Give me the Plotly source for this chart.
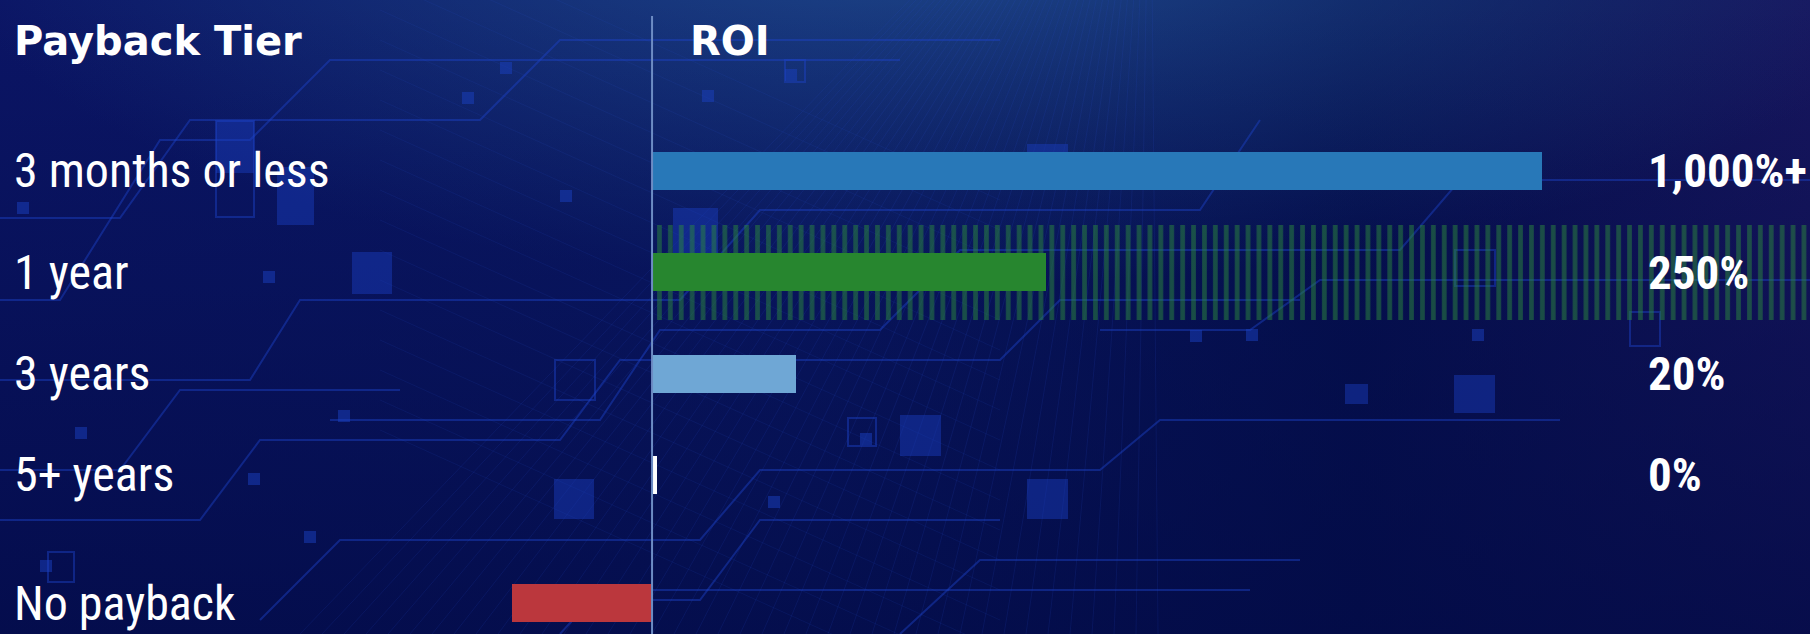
import base64
import plotly.graph_objects as go

# ---------------- data ----------------
tiers = ["3 months or less", "1 year", "3 years", "5+ years", "No payback"]
roi_labels = ["1,000%+", "250%", "20%", "0%", ""]
bar_lengths = [100, 44.3, 16.2, 0.6, -15.7]          # relative bar length (3 months = 100)
bar_colors = ["#2878b8", "#27862f", "#6fa7d5", "#ffffff", "#bb373d"]
highlight_tier = "1 year"
header_left = "Payback Tier"
header_right = "ROI"

# ---------------- layout constants ----------------
W, H = 1810, 634
X_MIN, X_MAX = -73.26, 130.1
Y_TOP, Y_BOTTOM = -1.688, 4.571
GAP_BEFORE_LAST = 0.265
positions = [i + (GAP_BEFORE_LAST if t == "No payback" else 0) for i, t in enumerate(tiers)]

LABEL_FONT = "Liberation Sans Narrow, Roboto Condensed, DejaVu Sans Condensed, sans-serif"
HEAD_FONT = "DejaVu Sans, Open Sans, sans-serif"

# ---------------- decorative background (svg) ----------------
def bg_svg():
    sq = [(216, 121, 38, 52), (277, 167, 37, 58), (352, 252, 40, 42), (554, 479, 40, 40),
          (900, 415, 41, 41), (1027, 479, 41, 40), (1454, 375, 41, 38), (673, 208, 45, 48),
          (1027, 144, 41, 29), (1345, 384, 23, 20)]
    small = [(462, 92), (702, 90), (785, 69), (263, 271), (338, 410), (17, 202), (1246, 329),
             (1472, 329), (768, 496), (860, 433), (304, 531), (248, 473), (75, 427), (560, 190),
             (1190, 330), (500, 62), (40, 560)]
    outline = [(216, 121, 38, 96), (555, 360, 40, 40), (848, 418, 28, 28), (1630, 312, 30, 34),
               (48, 552, 26, 30), (1455, 250, 40, 36), (785, 60, 20, 22)]
    lines = [
        "0,218 120,218 190,120 480,120 560,40 1000,40",
        "0,300 60,300 160,140 250,140 330,60 900,60",
        "0,380 250,380 300,300 680,300 760,210 1200,210 1260,120",
        "0,520 200,520 260,440 560,440 620,360 1000,360 1060,300 1300,300",
        "330,420 600,420 660,330 880,330 960,250 1400,250 1460,180 1810,180",
        "0,470 120,470 180,390 400,390",
        "260,620 340,540 700,540 760,470 1100,470 1160,420 1560,420",
        "600,600 700,600 760,520 1000,520",
        "900,634 980,560 1300,560",
        "1100,330 1250,330 1320,280 1810,280",
        "560,634 600,590 1250,590",
    ]
    s = [f'<svg xmlns="http://www.w3.org/2000/svg" width="{W}" height="{H}" viewBox="0 0 {W} {H}">',
         '<defs>',
         '<linearGradient id="g1" x1="0" y1="0" x2="1" y2="0">'
         '<stop offset="0" stop-color="#0b1565"/><stop offset="0.45" stop-color="#0b1a66"/>'
         '<stop offset="0.75" stop-color="#061150"/><stop offset="1" stop-color="#17165e"/></linearGradient>',
         '<radialGradient id="g2" cx="0.52" cy="-0.1" r="0.55">'
         '<stop offset="0" stop-color="#1f4a8c" stop-opacity="0.9"/>'
         '<stop offset="1" stop-color="#1f4a8c" stop-opacity="0"/></radialGradient>',
         '<linearGradient id="g3" x1="0" y1="0" x2="0" y2="1">'
         '<stop offset="0" stop-color="#020a45" stop-opacity="0"/>'
         '<stop offset="1" stop-color="#020a45" stop-opacity="0.75"/></linearGradient>',
         '</defs>',
         '<rect width="100%" height="100%" fill="url(#g1)"/>',
         '<rect width="100%" height="100%" fill="url(#g2)"/>',
         '<rect width="100%" height="100%" fill="url(#g3)"/>']
    # perspective mesh
    for k in range(40):
        x2 = 300 + k * 22
        s.append(f'<line x1="1150" y1="-250" x2="{x2}" y2="{H}" stroke="#2a4fd0" stroke-opacity="0.14" stroke-width="1"/>')
    for k in range(18):
        y = 40 + k * 30
        s.append(f'<line x1="380" y1="{y - 120}" x2="1000" y2="{y + 160}" stroke="#2a4fd0" stroke-opacity="0.12" stroke-width="1"/>')
    g = 'stroke="#1c42c8" stroke-opacity="0.45" fill="none" stroke-width="2"'
    for pl in lines:
        s.append(f'<polyline points="{pl}" {g}/>')
    for (x, y, w, h) in sq:
        s.append(f'<rect x="{x}" y="{y}" width="{w}" height="{h}" fill="#1a3fc0" fill-opacity="0.45"/>')
    for (x, y) in small:
        s.append(f'<rect x="{x}" y="{y}" width="12" height="12" fill="#1a3fc0" fill-opacity="0.5"/>')
    for (x, y, w, h) in outline:
        s.append(f'<rect x="{x}" y="{y}" width="{w}" height="{h}" {g}/>')
    s.append('</svg>')
    return "data:image/svg+xml;base64," + base64.b64encode("".join(s).encode()).decode()


fig = go.Figure()

# highlight band behind the "1 year" row
hi_pos = positions[tiers.index(highlight_tier)]
fig.add_trace(go.Bar(
    y=[hi_pos], x=[X_MAX + 20], base=0, orientation="h", width=0.94,
    marker=dict(color="rgba(0,0,0,0)", line=dict(width=0),
                pattern=dict(shape="|", fgcolor="#2b8a3c", fgopacity=0.5,
                             bgcolor="rgba(0,0,0,0)", size=10.9, solidity=0.43)),
    hoverinfo="skip", showlegend=False))

# main bars
fig.add_trace(go.Bar(
    y=positions, x=bar_lengths, orientation="h", width=0.375,
    marker=dict(color=bar_colors, line=dict(width=0)),
    customdata=roi_labels,
    hovertemplate="%{customdata}<extra></extra>", showlegend=False))

annotations = []
for t, p, lab in zip(tiers, positions, roi_labels):
    annotations.append(dict(xref="paper", yref="y", x=12 / W, y=p, text=t, showarrow=False,
                            xanchor="left", yanchor="middle",
                            font=dict(family=LABEL_FONT, size=48, color="white")))
    if lab:
        annotations.append(dict(xref="paper", yref="y", x=1646 / W, y=p, text=f"<b>{lab}</b>",
                                showarrow=False, xanchor="left", yanchor="middle",
                                font=dict(family=LABEL_FONT, size=47, color="white")))
annotations.append(dict(xref="paper", yref="paper", x=12 / W, y=1 - 41 / H, text=f"<b>{header_left}</b>",
                        showarrow=False, xanchor="left", yanchor="middle",
                        font=dict(family=HEAD_FONT, size=40, color="white")))
annotations.append(dict(xref="paper", yref="paper", x=688 / W, y=1 - 41 / H, text=f"<b>{header_right}</b>",
                        showarrow=False, xanchor="left", yanchor="middle",
                        font=dict(family=HEAD_FONT, size=40, color="white")))

fig.update_layout(
    width=W, height=H,
    margin=dict(l=0, r=0, t=0, b=0),
    paper_bgcolor="#0a1660", plot_bgcolor="rgba(0,0,0,0)",
    barmode="overlay", bargap=0,
    xaxis=dict(range=[X_MIN, X_MAX], visible=False, fixedrange=True),
    yaxis=dict(range=[Y_BOTTOM, Y_TOP], visible=False, fixedrange=True),
    annotations=annotations,
    shapes=[dict(type="line", xref="x", yref="paper", x0=0, x1=0, y0=0, y1=1 - 16 / H,
                 line=dict(color="#6d8cc4", width=2))],
    images=[dict(source=bg_svg(), xref="paper", yref="paper", x=0, y=1, sizex=1, sizey=1,
                 xanchor="left", yanchor="top", sizing="stretch", layer="below")],
)

fig.write_html("out.html")
